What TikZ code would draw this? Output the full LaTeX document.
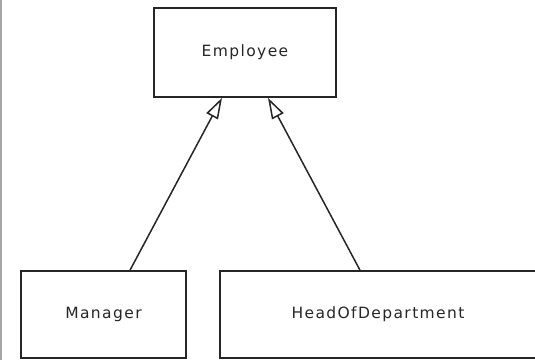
\documentclass[tikz,border=0pt]{standalone}
\usepackage{fontspec}
\setmainfont{DejaVu Sans}[LetterSpace=9]
\usetikzlibrary{arrows.meta,calc}
\begin{document}
\begin{tikzpicture}[x=1pt,y=1pt,
  classbox/.style={draw=black!85, line width=1.6pt, fill=white, inner sep=0pt,
    font=\fontsize{15.5}{18}\selectfont, text=black!85},
  inherit/.style={draw=black!85, line width=1.5pt,
    -{Triangle[open, length=21pt, width=13pt, fill=white]}}]
  \useasboundingbox (0,0) rectangle (535,360);
  \clip (0,0) rectangle (535,360);
  % left margin rule
  \draw[black!35, line width=1.8pt] (1,0) -- (1,360);
  % classes
  \node[classbox, minimum width=182pt, minimum height=89pt] (emp) at (245,307.5) {Employee};
  \node[classbox, minimum width=165pt, minimum height=87pt] (mgr) at (103.5,45.5) {Manager};
  \node[classbox, minimum width=316pt, minimum height=87pt] (hod) at (378,45.5) {HeadOfDepartment};
  % generalisation arrows
  \coordinate (mgrtop) at ($(mgr.north)+(26.5,0)$);
  \coordinate (hodtop) at ($(hod.north)+(-18,0)$);
  \coordinate (empl) at ($(emp.south)+(-23,0)$);
  \coordinate (empr) at ($(emp.south)+(23,0)$);
  \draw[inherit] (mgrtop) -- (empl);
  \draw[inherit] (hodtop) -- (empr);
\end{tikzpicture}
\end{document}
